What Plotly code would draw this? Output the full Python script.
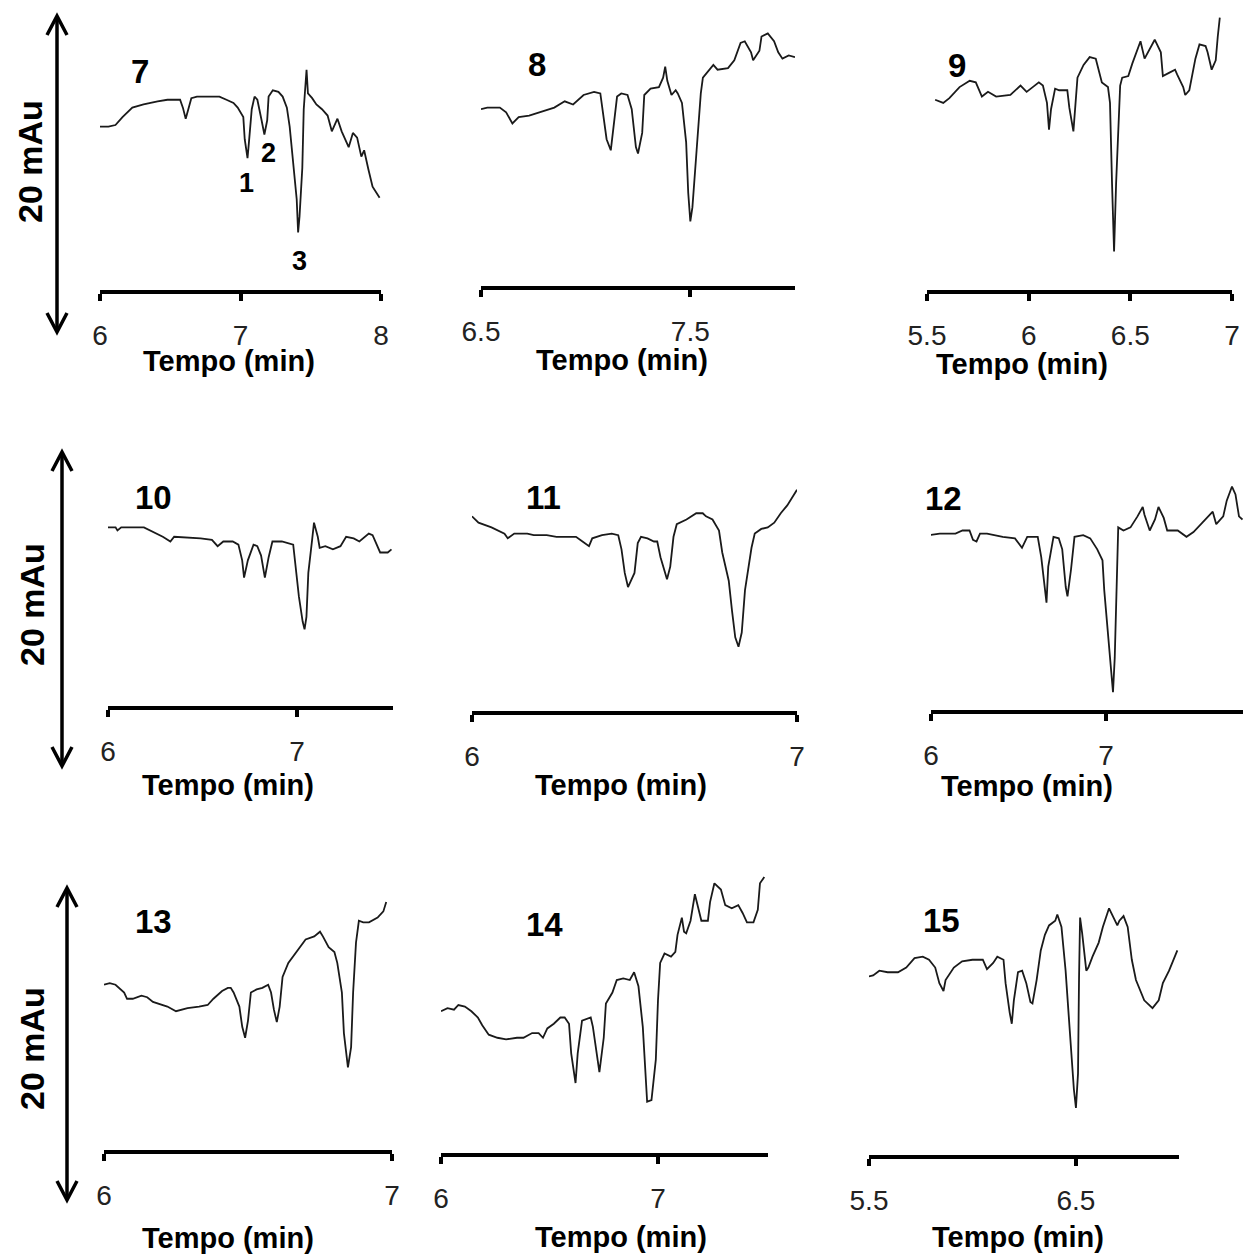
import plotly.graph_objects as go

W, H = 1243, 1255

# ---- chromatograms: retention time (min) and detector signal (mAu) ----
t7 = [6.00, 6.06, 6.11, 6.16, 6.23, 6.31, 6.41, 6.48, 6.57, 6.59, 6.61, 6.63, 6.65, 6.69, 6.76,
      6.85, 6.90, 6.95, 6.98, 7.02, 7.03, 7.05, 7.06, 7.08, 7.10, 7.12, 7.15, 7.17, 7.19, 7.20,
      7.23, 7.27, 7.30, 7.33, 7.35, 7.37, 7.40, 7.41, 7.42, 7.44, 7.45, 7.47, 7.48, 7.51, 7.54,
      7.58, 7.62, 7.65, 7.67, 7.69, 7.72, 7.77, 7.80, 7.83, 7.86, 7.88, 7.91, 7.94, 7.99]
a7 = [13.0, 13.0, 13.1, 13.6, 14.2, 14.4, 14.6, 14.7, 14.7, 14.2, 13.5, 14.2, 14.8, 14.9, 14.9,
      14.9, 14.7, 14.5, 14.2, 13.6, 12.2, 11.0, 12.0, 14.1, 14.9, 14.7, 13.4, 12.5, 13.4, 14.9,
      15.3, 15.2, 14.9, 14.2, 13.0, 11.1, 8.4, 6.3, 7.3, 10.4, 14.1, 16.6, 15.1, 14.8, 14.4,
      14.1, 13.7, 12.7, 13.1, 13.5, 12.7, 11.7, 12.6, 12.3, 11.1, 11.5, 10.3, 9.2, 8.5]

t8 = [6.50, 6.53, 6.59, 6.62, 6.65, 6.68, 6.73, 6.78, 6.85, 6.90, 6.94, 6.99, 7.04, 7.07, 7.08,
      7.10, 7.12, 7.13, 7.15, 7.17, 7.20, 7.22, 7.24, 7.25, 7.27, 7.28, 7.31, 7.35, 7.37, 7.38,
      7.39, 7.41, 7.43, 7.44, 7.46, 7.48, 7.49, 7.50, 7.51, 7.53, 7.55, 7.56, 7.60, 7.61, 7.63,
      7.68, 7.71, 7.74, 7.76, 7.79, 7.80, 7.83, 7.84, 7.87, 7.90, 7.92, 7.94, 7.97, 8.00]
a8 = [14.1, 14.2, 14.2, 13.9, 13.2, 13.6, 13.7, 13.9, 14.2, 14.6, 14.4, 15.0, 15.2, 15.1, 14.1,
      12.2, 11.5, 12.6, 14.9, 15.1, 15.0, 14.1, 11.7, 11.3, 12.6, 15.0, 15.4, 15.5, 16.1, 16.8,
      15.9, 15.0, 15.3, 15.1, 14.5, 12.0, 8.8, 7.0, 7.9, 11.5, 15.1, 16.1, 16.7, 16.9, 16.6,
      16.7, 17.2, 18.3, 18.4, 17.7, 17.2, 17.8, 18.7, 18.9, 18.4, 17.7, 17.3, 17.5, 17.4]

t9 = [5.54, 5.58, 5.61, 5.66, 5.71, 5.74, 5.77, 5.80, 5.84, 5.91, 5.96, 5.99, 6.02, 6.05, 6.07,
      6.09, 6.10, 6.11, 6.13, 6.15, 6.19, 6.20, 6.22, 6.23, 6.24, 6.27, 6.30, 6.33, 6.34, 6.36,
      6.39, 6.40, 6.41, 6.42, 6.43, 6.45, 6.46, 6.49, 6.51, 6.53, 6.55, 6.57, 6.59, 6.62, 6.65,
      6.66, 6.69, 6.72, 6.73, 6.76, 6.77, 6.79, 6.82, 6.84, 6.87, 6.88, 6.90, 6.92, 6.93, 6.94]
a9 = [14.7, 14.5, 14.8, 15.5, 15.9, 15.8, 14.9, 15.2, 14.9, 15.0, 15.6, 15.2, 15.5, 15.8, 15.6,
      14.5, 12.8, 14.1, 15.4, 15.3, 15.3, 14.2, 12.7, 14.2, 16.1, 16.9, 17.4, 17.3, 16.8, 15.8,
      15.5, 14.5, 9.4, 5.1, 9.4, 15.6, 16.1, 16.2, 17.0, 17.7, 18.4, 17.3, 17.8, 18.5, 17.7,
      16.2, 16.4, 16.6, 16.3, 15.5, 15.0, 15.3, 17.3, 18.2, 18.1, 17.7, 16.6, 17.2, 18.7, 19.9]

t10 = [6.00, 6.04, 6.05, 6.07, 6.19, 6.24, 6.29, 6.33, 6.35, 6.49, 6.55, 6.58, 6.61, 6.66, 6.69,
       6.71, 6.72, 6.74, 6.77, 6.79, 6.81, 6.83, 6.85, 6.87, 6.92, 6.98, 6.99, 7.01, 7.03, 7.04,
       7.05, 7.06, 7.08, 7.09, 7.11, 7.12, 7.15, 7.19, 7.23, 7.26, 7.30, 7.33, 7.38, 7.40, 7.44,
       7.48, 7.50]
a10 = [15.2, 15.2, 15.0, 15.2, 15.2, 14.9, 14.6, 14.3, 14.6, 14.5, 14.4, 14.0, 14.3, 14.3, 14.1,
       13.1, 12.0, 13.1, 14.1, 14.0, 13.4, 12.0, 13.3, 14.3, 14.3, 14.1, 13.1, 10.8, 9.2, 8.7,
       9.5, 12.3, 14.4, 15.5, 14.6, 13.9, 14.0, 13.8, 14.0, 14.6, 14.5, 14.3, 14.8, 14.7, 13.6,
       13.6, 13.8]

t11 = [6.00, 6.02, 6.06, 6.10, 6.11, 6.13, 6.17, 6.19, 6.23, 6.26, 6.29, 6.32, 6.34, 6.36, 6.37,
       6.40, 6.43, 6.45, 6.46, 6.47, 6.48, 6.50, 6.51, 6.52, 6.54, 6.56, 6.57, 6.58, 6.60, 6.61,
       6.62, 6.63, 6.66, 6.69, 6.71, 6.72, 6.74, 6.76, 6.77, 6.79, 6.80, 6.81, 6.82, 6.83, 6.84,
       6.86, 6.87, 6.89, 6.91, 6.93, 6.95, 6.97, 7.00]
a11 = [15.9, 15.5, 15.2, 14.8, 14.5, 14.8, 14.8, 14.7, 14.7, 14.6, 14.6, 14.6, 14.3, 14.0, 14.5,
       14.7, 14.8, 14.7, 13.8, 12.3, 11.4, 12.3, 14.2, 14.6, 14.5, 14.3, 14.3, 13.3, 11.9, 12.7,
       14.6, 15.4, 15.7, 16.1, 16.1, 15.9, 15.7, 15.0, 13.6, 11.8, 9.9, 8.2, 7.6, 8.5, 11.2,
       13.9, 14.8, 15.1, 15.2, 15.5, 16.1, 16.6, 17.6]

t12 = [5.99, 6.05, 6.14, 6.18, 6.22, 6.24, 6.26, 6.28, 6.32, 6.41, 6.48, 6.52, 6.55, 6.61, 6.63,
       6.65, 6.66, 6.67, 6.70, 6.73, 6.75, 6.77, 6.78, 6.80, 6.82, 6.87, 6.91, 6.95, 6.98, 6.99,
       7.01, 7.03, 7.04, 7.05, 7.06, 7.07, 7.10, 7.14, 7.18, 7.21, 7.22, 7.25, 7.28, 7.30, 7.33,
       7.35, 7.41, 7.46, 7.50, 7.55, 7.61, 7.63, 7.67, 7.69, 7.72, 7.74, 7.76, 7.78]
a12 = [14.7, 14.8, 14.8, 15.0, 15.0, 14.4, 14.3, 14.8, 14.8, 14.6, 14.5, 13.9, 14.6, 14.6, 13.3,
       11.2, 10.4, 12.7, 14.6, 14.5, 13.8, 11.4, 10.8, 12.5, 14.6, 14.7, 14.5, 13.8, 13.1, 11.2,
       8.5, 5.9, 4.7, 6.9, 11.2, 15.2, 15.0, 15.2, 15.9, 16.5, 16.0, 15.0, 15.7, 16.5, 15.8,
       15.0, 15.0, 14.6, 14.9, 15.5, 16.2, 15.4, 15.9, 16.9, 17.8, 17.3, 15.9, 15.7]

t13 = [6.00, 6.02, 6.04, 6.07, 6.08, 6.10, 6.13, 6.15, 6.17, 6.22, 6.25, 6.29, 6.33, 6.36, 6.38,
       6.41, 6.43, 6.44, 6.45, 6.47, 6.48, 6.49, 6.50, 6.51, 6.53, 6.55, 6.57, 6.58, 6.59, 6.60,
       6.61, 6.62, 6.64, 6.66, 6.68, 6.70, 6.73, 6.75, 6.76, 6.78, 6.80, 6.81, 6.826, 6.833,
       6.847, 6.858, 6.865, 6.875, 6.885, 6.90, 6.92, 6.95, 6.97, 6.98]
a13 = [13.8, 13.9, 13.8, 13.3, 12.9, 12.9, 13.1, 13.0, 12.7, 12.4, 12.1, 12.3, 12.4, 12.5, 12.9,
       13.4, 13.6, 13.6, 13.3, 12.4, 11.1, 10.4, 11.5, 13.3, 13.5, 13.6, 13.8, 13.3, 12.2, 11.4,
       12.4, 14.3, 15.2, 15.7, 16.2, 16.7, 16.9, 17.2, 16.9, 16.2, 15.9, 15.2, 13.3, 10.7,
       8.5, 9.8, 13.3, 16.5, 17.9, 17.8, 17.8, 18.1, 18.5, 19.1]

t14 = [6.00, 6.03, 6.06, 6.08, 6.11, 6.14, 6.17, 6.19, 6.22, 6.26, 6.30, 6.35, 6.38, 6.42, 6.45,
       6.47, 6.49, 6.52, 6.55, 6.57, 6.59, 6.60, 6.62, 6.63, 6.65, 6.69, 6.70, 6.72, 6.73, 6.75,
       6.76, 6.79, 6.81, 6.84, 6.87, 6.89, 6.91, 6.93, 6.94, 6.95, 6.97, 6.99, 7.00, 7.01, 7.03,
       7.06, 7.08, 7.09, 7.11, 7.12, 7.13, 7.15, 7.17, 7.18, 7.20, 7.23, 7.24, 7.26, 7.29, 7.31,
       7.34, 7.37, 7.39, 7.41, 7.44, 7.46, 7.47, 7.49]
a14 = [12.1, 12.3, 12.2, 12.5, 12.4, 12.1, 11.7, 11.2, 10.6, 10.4, 10.3, 10.4, 10.4, 10.7, 10.7,
       10.4, 11.0, 11.3, 11.7, 11.7, 11.3, 9.4, 7.5, 9.4, 11.5, 11.7, 11.1, 9.2, 8.2, 10.4,
       12.6, 13.3, 14.1, 14.2, 14.1, 14.6, 13.7, 11.1, 8.5, 6.3, 6.4, 9.0, 12.8, 15.2, 15.8,
       15.6, 15.9, 17.0, 18.1, 17.2, 17.1, 17.9, 19.6, 19.0, 17.9, 17.9, 19.1, 20.3, 19.9, 18.9,
       18.7, 18.9, 18.4, 17.8, 17.8, 18.6, 20.3, 20.7]

t15 = [5.49, 5.52, 5.55, 5.59, 5.64, 5.68, 5.72, 5.76, 5.79, 5.82, 5.84, 5.86, 5.87, 5.91, 5.95,
       6.00, 6.05, 6.07, 6.10, 6.12, 6.15, 6.16, 6.18, 6.19, 6.20, 6.22, 6.24, 6.26, 6.28, 6.29,
       6.31, 6.33, 6.35, 6.37, 6.40, 6.41, 6.43, 6.45, 6.47, 6.49, 6.50, 6.51, 6.515, 6.52, 6.53,
       6.55, 6.56, 6.58, 6.61, 6.63, 6.66, 6.68, 6.70, 6.71, 6.73, 6.75, 6.77, 6.79, 6.83, 6.87,
       6.90, 6.92, 6.95, 6.99]
a15 = [14.3, 14.4, 14.7, 14.6, 14.6, 14.9, 15.5, 15.6, 15.4, 14.9, 13.9, 13.4, 14.1, 14.9, 15.3,
       15.4, 15.4, 14.8, 15.2, 15.6, 15.4, 13.9, 12.0, 11.3, 12.8, 14.6, 14.7, 13.9, 12.7, 12.6,
       14.1, 16.0, 17.0, 17.6, 17.9, 18.3, 17.5, 14.7, 10.9, 7.1, 5.9, 8.1, 14.3, 18.1, 17.1,
       14.7, 14.9, 15.6, 16.5, 17.5, 18.7, 18.1, 17.6, 17.9, 18.2, 17.5, 15.4, 14.1, 12.8, 12.3,
       12.8, 13.9, 14.7, 16.0]

# tick positions / labels of each time axis
ticks7, ticktext7 = [6, 7, 8], ["6", "7", "8"]
ticks8, ticktext8 = [6.5, 7.5], ["6.5", "7.5"]
ticks9, ticktext9 = [5.5, 6, 6.5, 7], ["5.5", "6", "6.5", "7"]
ticks10, ticktext10 = [6, 7], ["6", "7"]
ticks11, ticktext11 = [6, 7], ["6", "7"]
ticks12, ticktext12 = [6, 7], ["6", "7"]
ticks13, ticktext13 = [6, 7], ["6", "7"]
ticks14, ticktext14 = [6, 7], ["6", "7"]
ticks15, ticktext15 = [5.5, 6.5], ["5.5", "6.5"]

sample_names = ["7", "8", "9", "10", "11", "12", "13", "14", "15"]

# identified peaks in chromatogram 7
peak_ids = ["1", "2", "3"]
peak_t = [7.04, 7.20, 7.42]
peak_a = [9.4, 11.3, 4.5]

SCALE_MAU = 20  # vertical scale bar

# ---- page geometry (pixels) ----
# row: zero level of the scale bar, px per mAu, y-domain top / bottom
rows = {
    1: dict(base=332, ppu=15.8, top=0, bottom=345),
    2: dict(base=766, ppu=15.7, top=440, bottom=775),
    3: dict(base=1200, ppu=15.6, top=860, bottom=1212),
}
# panel: row, axis left / right px, x range, axis line px, label centre, title centre
geom = [
    dict(row=1, l=100, r=381, rng=[6.0, 8.0], line=292, lab=(140, 72), tit=(229, 361)),
    dict(row=1, l=481, r=795, rng=[6.5, 8.0], line=288, lab=(537, 65), tit=(622, 360)),
    dict(row=1, l=927, r=1232, rng=[5.5, 7.0], line=292, lab=(957, 66), tit=(1022, 364)),
    dict(row=2, l=108, r=393, rng=[6.0, 7.508], line=708, lab=(153, 497), tit=(228, 785)),
    dict(row=2, l=472, r=797, rng=[6.0, 7.0], line=713, lab=(543, 497), tit=(621, 785)),
    dict(row=2, l=931, r=1243, rng=[6.0, 7.783], line=712, lab=(943, 498), tit=(1027, 786)),
    dict(row=3, l=104, r=392, rng=[6.0, 7.0], line=1152, lab=(153, 922), tit=(228, 1238)),
    dict(row=3, l=441, r=768, rng=[6.0, 7.507], line=1155, lab=(544, 924), tit=(621, 1237)),
    dict(row=3, l=869, r=1179, rng=[5.5, 6.998], line=1157, lab=(941, 920), tit=(1018, 1237)),
]

series = [(t7, a7), (t8, a8), (t9, a9), (t10, a10), (t11, a11), (t12, a12),
          (t13, a13), (t14, a14), (t15, a15)]
ticks = [(ticks7, ticktext7), (ticks8, ticktext8), (ticks9, ticktext9),
         (ticks10, ticktext10), (ticks11, ticktext11), (ticks12, ticktext12),
         (ticks13, ticktext13), (ticks14, ticktext14), (ticks15, ticktext15)]

BOLD = "Liberation Sans, Arial, sans-serif"
TICKFONT = "Liberation Sans Narrow, Arial Narrow, Liberation Sans, Arial, sans-serif"


def py(p):
    return 1 - p / H


fig = go.Figure()
layout = {}
annotations = []
shapes = []

for i, ((t, a), g, (tv, tt), name) in enumerate(zip(series, geom, ticks, sample_names), start=1):
    sfx = "" if i == 1 else str(i)
    r = rows[g["row"]]
    fig.add_trace(go.Scatter(x=t, y=a, mode="lines", xaxis="x" + sfx, yaxis="y" + sfx,
                             line=dict(color="#1a1a1a", width=1.8), showlegend=False,
                             hoverinfo="skip"))
    layout["xaxis" + sfx] = dict(
        domain=[g["l"] / W, g["r"] / W], range=g["rng"], anchor="free", position=py(g["line"]),
        showline=True, linewidth=3.5, linecolor="black", ticks="outside", ticklen=7,
        tickwidth=3.5, tickcolor="black", tickvals=tv, ticktext=tt, showgrid=False,
        zeroline=False, ticklabelstandoff=11, automargin=False,
        tickfont=dict(family=TICKFONT, size=28, color="#222222"),
    )
    layout["yaxis" + sfx] = dict(
        domain=[py(r["bottom"]), py(r["top"])],
        range=[(r["base"] - r["bottom"]) / r["ppu"], (r["base"] - r["top"]) / r["ppu"]],
        visible=False, anchor="x" + sfx, automargin=False,
    )
    annotations.append(dict(text=f"<b>{name}</b>", xref="paper", yref="paper",
                            x=g["lab"][0] / W, y=py(g["lab"][1]), showarrow=False,
                            xanchor="center", yanchor="middle",
                            font=dict(family=BOLD, size=33, color="black")))
    annotations.append(dict(text="<b>Tempo (min)</b>", xref="paper", yref="paper",
                            x=g["tit"][0] / W, y=py(g["tit"][1]), showarrow=False,
                            xanchor="center", yanchor="middle",
                            font=dict(family=BOLD, size=29, color="black")))

# peak numbers on chromatogram 7
for pid, pt, pa in zip(peak_ids, peak_t, peak_a):
    annotations.append(dict(text=f"<b>{pid}</b>", xref="x", yref="y", x=pt, y=pa,
                            showarrow=False, xanchor="center", yanchor="middle",
                            font=dict(family=BOLD, size=27, color="black")))

# 20 mAu double-headed scale bars, one per row
for yref, xpx, lab in [("y", 57, (30, 162)), ("y4", 62, (32, 604)), ("y7", 67, (32, 1048))]:
    row = {"y": 1, "y4": 2, "y7": 3}[yref]
    ppu = rows[row]["ppu"]
    xp = xpx / W
    hw = 10 / W
    hl = 19 / ppu
    style = dict(color="black", width=3.5)
    shapes.append(dict(type="line", xref="paper", yref=yref, x0=xp, x1=xp, y0=0,
                       y1=SCALE_MAU, line=style))
    shapes.append(dict(type="path", xref="paper", yref=yref, line=style,
                       path=f"M{xp - hw},{SCALE_MAU - hl} L{xp},{SCALE_MAU} L{xp + hw},{SCALE_MAU - hl}"))
    shapes.append(dict(type="path", xref="paper", yref=yref, line=style,
                       path=f"M{xp - hw},{hl} L{xp},0 L{xp + hw},{hl}"))
    annotations.append(dict(text=f"<b>{SCALE_MAU} mAu</b>", xref="paper", yref="paper",
                            x=lab[0] / W, y=py(lab[1]), showarrow=False, textangle=-90,
                            xanchor="center", yanchor="middle",
                            font=dict(family=BOLD, size=34, color="black")))

fig.update_layout(
    width=W, height=H, autosize=False,
    margin=dict(l=0, r=0, t=0, b=0, pad=0, autoexpand=False),
    paper_bgcolor="white", plot_bgcolor="white",
    annotations=annotations, shapes=shapes, showlegend=False, **layout,
)

fig.write_html("out.html", config={"displayModeBar": False})
